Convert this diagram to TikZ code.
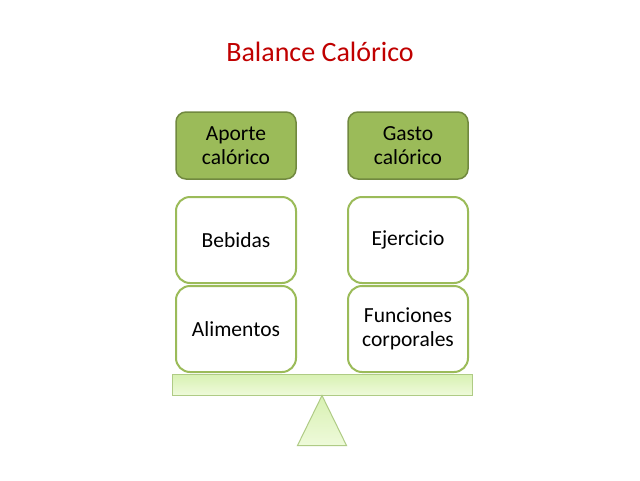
\documentclass[tikz,border=0pt]{standalone}
\usepackage{fontspec}
\setmainfont{Carlito}
\usepackage{tikz}
\usetikzlibrary{positioning}
\usetikzlibrary{backgrounds}
\definecolor{titlered}{HTML}{C00000}
\definecolor{olivefill}{HTML}{9BBB59}
\definecolor{olivedraw}{HTML}{71893F}
\definecolor{beamtop}{HTML}{D8F1B2}
\definecolor{beambot}{HTML}{EEFADA}
\definecolor{beamdraw}{HTML}{AFCB85}
\tikzset{headbox/.style={rounded corners=10pt,minimum width=120pt,minimum height=67pt,inner sep=0pt,outer sep=0pt,align=center,fill=olivefill,draw=olivedraw,line width=1.5pt,font=\fontsize{21.5}{24.5}\selectfont},
itembox/.style={rounded corners=14pt,minimum width=120pt,minimum height=86pt,inner sep=0pt,outer sep=0pt,align=center,fill=white,draw=olivefill,line width=2pt,font=\fontsize{21.5}{24.5}\selectfont}}
\begin{document}
\begin{tikzpicture}[x=1pt,y=-1pt]
\useasboundingbox[fill=white] (0,0) rectangle (640,480);
\node (title) at (320,52) [text=titlered,font=\fontsize{28}{32}\selectfont] {Balance Calórico};

\node (aporte) at (236,145.5) [headbox] {Aporte\\calórico};
\node (gasto) [right=52pt of aporte, headbox] {Gasto\\calórico};
\node (bebidas) [below=18pt of aporte, itembox] {Bebidas};
\node (ejercicio) [below=18pt of gasto, itembox] {Ejercicio};
\node (alimentos) [below=3pt of bebidas, itembox] {Alimentos};
\node (funciones) [below=3pt of ejercicio, itembox] {Funciones\\corporales};

\node (beam) at (322,384.5) [minimum width=300pt,minimum height=21pt,inner sep=0pt,top color=beamtop,bottom color=beambot,draw=beamdraw,line width=1pt] {};
\draw[top color=beamtop,bottom color=beambot,draw=beamdraw,line width=1pt] (beam.south) -- ++(24.5,50) -- ++(-49,0) -- cycle;
\end{tikzpicture}
\end{document}
